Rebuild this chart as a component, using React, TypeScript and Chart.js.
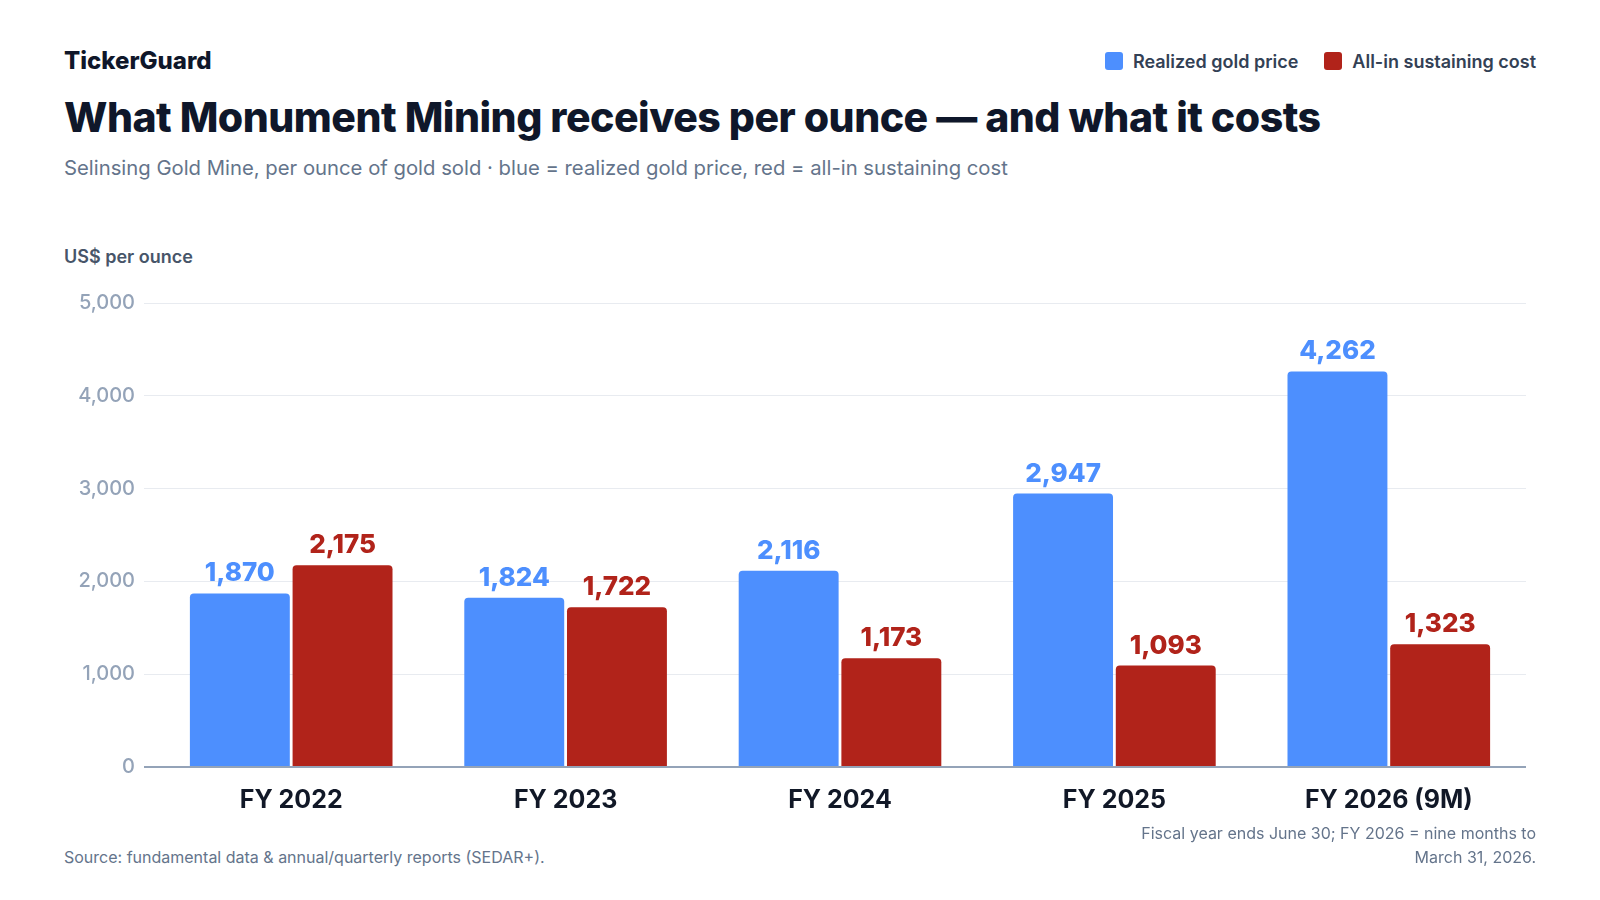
import React, { useEffect, useRef } from "react";
import Chart, { ChartConfiguration, Plugin } from "chart.js/auto";

// Fiscal years (FY ends June 30)
const categories = ["FY 2022", "FY 2023", "FY 2024", "FY 2025", "FY 2026 (9M)"];
// US$ per ounce
const realizedPrice = [1870, 1824, 2116, 2947, 4262];
const allInSustainingCost = [2175, 1722, 1173, 1093, 1323];
const yTicks = [0, 1000, 2000, 3000, 4000, 5000];

const BLUE = "#4d8ffe";
const RED = "#b1231a";
const FONT = "Inter, 'Noto Sans', sans-serif";

const fmt = (v: number) => v.toLocaleString("en-US");

// draws the value above each bar
const valueLabels: Plugin<"bar"> = {
  id: "valueLabels",
  afterDatasetsDraw(chart) {
    const ctx = chart.ctx;
    ctx.save();
    ctx.font = `800 26px ${FONT}`;
    ctx.textAlign = "center";
    ctx.textBaseline = "alphabetic";
    chart.data.datasets.forEach((ds, i) => {
      const meta = chart.getDatasetMeta(i);
      ctx.fillStyle = ds.backgroundColor as string;
      meta.data.forEach((el, j) => {
        const v = ds.data[j] as number;
        ctx.fillText(fmt(v), el.x, el.y - 12);
      });
    });
    ctx.restore();
  },
};

function BarChart() {
  const chartRef = useRef<HTMLCanvasElement | null>(null);
  const chartInstanceRef = useRef<Chart<"bar", number[], string> | null>(null);

  useEffect(() => {
    const canvas = chartRef.current;
    if (!canvas) return;
    const ctx = canvas.getContext("2d");
    if (!ctx) return;

    if (chartInstanceRef.current) {
      chartInstanceRef.current.destroy();
    }

    const barStyle = {
      borderRadius: { topLeft: 4, topRight: 4 },
      borderSkipped: "bottom" as const,
      categoryPercentage: 0.7485,
      barPercentage: 0.973,
    };

    const config: ChartConfiguration<"bar", number[], string> = {
      type: "bar",
      data: {
        labels: categories,
        datasets: [
          {
            label: "Realized gold price",
            data: realizedPrice,
            backgroundColor: BLUE,
            ...barStyle,
          },
          {
            label: "All-in sustaining cost",
            data: allInSustainingCost,
            backgroundColor: RED,
            ...barStyle,
          },
        ],
      },
      options: {
        animation: false,
        responsive: true,
        maintainAspectRatio: false,
        layout: { padding: { top: 23, right: 10, left: 0, bottom: 0 } },
        plugins: {
          legend: { display: false },
          tooltip: { enabled: false },
        },
        scales: {
          x: {
            grid: { display: false, drawTicks: false },
            border: { display: false },
            ticks: {
              color: "#111827",
              font: { family: FONT, size: 25, weight: 700 },
              padding: 18,
            },
            afterFit: (scale) => {
              scale.height = 73;
            },
          },
          y: {
            min: 0,
            max: 5000,
            afterBuildTicks: (scale) => {
              scale.ticks = yTicks.map((v) => ({ value: v }));
            },
            // baseline (0) is the darker axis line, the rest are light grid lines
            grid: {
              color: (c) => (c.tick && c.tick.value === 0 ? "#94a3b8" : "#e8ebf0"),
              tickColor: (c) => (c.tick && c.tick.value === 0 ? "#94a3b8" : "#e8ebf0"),
              lineWidth: (c) => (c.tick && c.tick.value === 0 ? 2 : 1),
              drawTicks: true,
              tickLength: 10,
            },
            border: { display: false },
            ticks: {
              color: "#94a3b8",
              font: { family: FONT, size: 20, weight: 500 },
              padding: 9,
              callback: (v) => fmt(Number(v)),
            },
            afterFit: (scale) => {
              scale.width = 90;
            },
          },
        },
      },
      plugins: [valueLabels],
    };

    chartInstanceRef.current = new Chart(ctx, config);

    return () => {
      if (chartInstanceRef.current) {
        chartInstanceRef.current.destroy();
        chartInstanceRef.current = null;
      }
    };
  }, []);

  return <canvas ref={chartRef}></canvas>;
}

function LegendItem({ color, label }: { color: string; label: string }) {
  return (
    <div style={{ display: "flex", alignItems: "center", gap: 10 }}>
      <span style={{ width: 18, height: 18, borderRadius: 3, background: color, display: "inline-block" }} />
      <span>{label}</span>
    </div>
  );
}

export default function App() {
  useEffect(() => {
    document.body.style.margin = "0";
  }, []);

  return (
    <div
      style={{
        position: "relative",
        width: 1600,
        height: 900,
        background: "#ffffff",
        fontFamily: FONT,
        overflow: "hidden",
      }}
    >
      <div
        style={{
          position: "absolute",
          left: 64,
          top: 48,
          fontSize: 24,
          lineHeight: "26px",
          fontWeight: 800,
          color: "#0f172a",
        }}
      >
        TickerGuard
      </div>
      <div
        style={{
          position: "absolute",
          right: 64,
          top: 48,
          height: 26,
          display: "flex",
          alignItems: "center",
          gap: 26,
          fontSize: 18,
          fontWeight: 600,
          color: "#334155",
        }}
      >
        <LegendItem color={BLUE} label="Realized gold price" />
        <LegendItem color={RED} label="All-in sustaining cost" />
      </div>
      <div
        style={{
          position: "absolute",
          left: 64,
          top: 94,
          fontSize: 41,
          lineHeight: "46px",
          fontWeight: 800,
          color: "#0f172a",
          letterSpacing: -0.5,
          whiteSpace: "nowrap",
        }}
      >
        What Monument Mining receives per ounce — and what it costs
      </div>
      <div
        style={{
          position: "absolute",
          left: 64,
          top: 154,
          fontSize: 20.3,
          lineHeight: "28px",
          color: "#64748b",
          whiteSpace: "nowrap",
        }}
      >
        Selinsing Gold Mine, per ounce of gold sold · blue = realized gold price, red = all-in sustaining cost
      </div>
      <div
        style={{
          position: "absolute",
          left: 64,
          top: 245,
          fontSize: 18,
          lineHeight: "24px",
          fontWeight: 600,
          color: "#475569",
        }}
      >
        US$ per ounce
      </div>
      <div style={{ position: "absolute", left: 64, top: 280, width: 1472, height: 560 }}>
        <BarChart />
      </div>
      <div
        style={{
          position: "absolute",
          left: 64,
          top: 845,
          fontSize: 16,
          lineHeight: "24px",
          color: "#64748b",
        }}
      >
        Source: fundamental data &amp; annual/quarterly reports (SEDAR+).
      </div>
      <div
        style={{
          position: "absolute",
          right: 64,
          top: 821,
          fontSize: 16,
          lineHeight: "24px",
          color: "#64748b",
          textAlign: "right",
          whiteSpace: "nowrap",
        }}
      >
        Fiscal year ends June 30; FY 2026 = nine months to
        <br />
        March 31, 2026.
      </div>
    </div>
  );
}
